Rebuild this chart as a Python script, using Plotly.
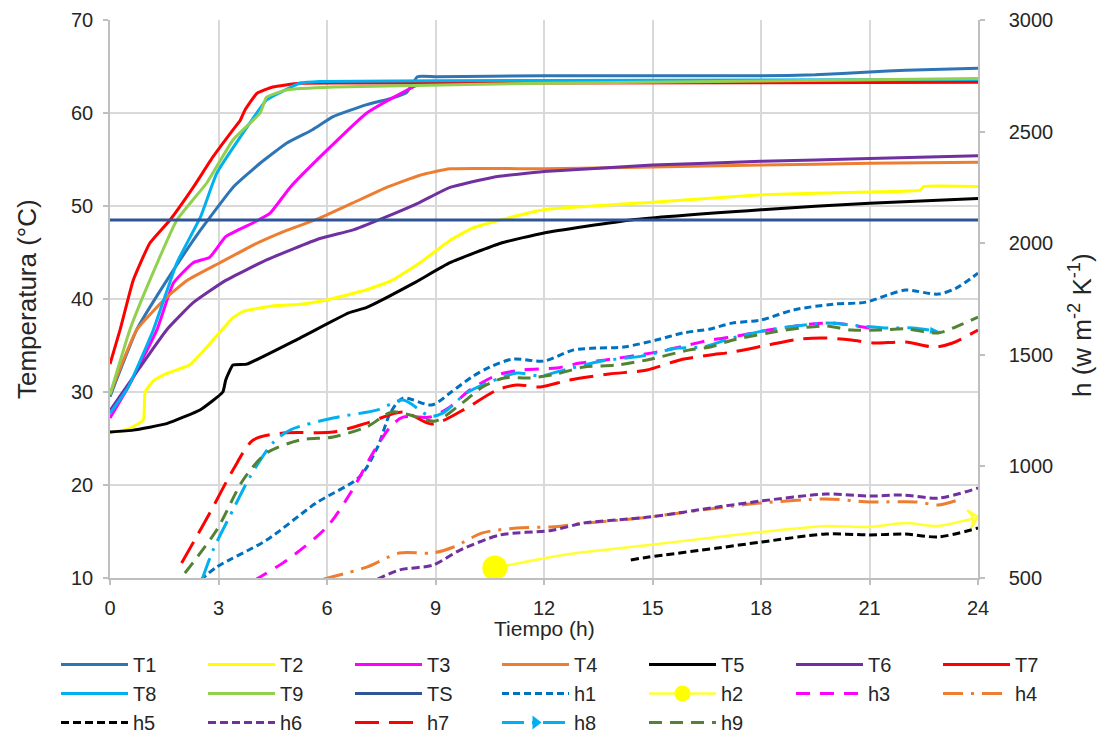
import plotly.graph_objects as go

# ---- Temperature series (°C) vs time (h) ----
t_T1 = [0, 0.74, 1.57, 2.5, 3.4, 4.15, 4.9, 5.6, 6.17, 7.1, 7.8, 8.2, 8.5, 9, 12, 15, 18, 19.5, 21, 22, 24]
v_T1 = [29.5, 36.7, 42.0, 47.4, 52.0, 54.6, 56.8, 58.2, 59.6, 60.9, 61.6, 62.2, 63.9, 63.9, 64.0, 64.0, 64.0, 64.1, 64.4, 64.6, 64.8]

t_T2 = [0, 0.5, 0.92, 0.97, 1.2, 1.57, 2.2, 2.6, 3.1, 3.4, 3.7, 4.6, 5.2, 6, 7.1, 7.8, 8.57, 9.4, 10, 10.8, 12, 15, 18, 21, 22.4, 22.5, 24]
v_T2 = [25.6, 26.0, 27.0, 30.0, 31.2, 32.0, 32.9, 34.5, 36.7, 38.0, 38.7, 39.3, 39.4, 39.9, 41.0, 42.0, 43.9, 46.3, 47.6, 48.5, 49.6, 50.4, 51.2, 51.5, 51.7, 52.1, 52.1]

t_T3 = [0, 0.5, 1.3, 1.75, 2.3, 2.76, 3.2, 3.96, 4.42, 4.98, 6.0, 7.1, 7.8, 8.5, 9, 12, 24]
v_T3 = [27.2, 30.5, 36.7, 41.7, 43.9, 44.5, 46.7, 48.2, 49.2, 52.0, 56.0, 60.0, 61.6, 63.0, 63.3, 63.3, 63.4]

t_T4 = [0, 0.74, 1.57, 2.13, 3.04, 3.96, 4.9, 5.8, 6.7, 7.65, 8.57, 9.4, 12, 15, 18, 21, 24]
v_T4 = [29.8, 36.7, 40.2, 42.0, 43.9, 45.8, 47.4, 48.7, 50.3, 52.0, 53.3, 54.0, 54.0, 54.2, 54.4, 54.6, 54.7]

t_T5 = [0, 0.64, 1.57, 2.5, 3.12, 3.2, 3.4, 3.78, 5.25, 6.6, 7.1, 8.4, 9.4, 10.8, 12, 14.4, 18, 21, 24]
v_T5 = [25.7, 25.9, 26.6, 28.1, 30.0, 31.3, 32.9, 33.0, 35.8, 38.5, 39.1, 41.7, 43.9, 46.0, 47.1, 48.5, 49.6, 50.3, 50.8]

t_T6 = [0, 0.8, 1.57, 2.3, 3.2, 4.33, 5.8, 6.7, 7.55, 8.57, 9.4, 10.6, 12, 15, 18, 21, 24]
v_T6 = [28.0, 32.5, 36.7, 39.6, 42.0, 44.2, 46.5, 47.4, 48.7, 50.4, 52.0, 53.1, 53.7, 54.4, 54.8, 55.1, 55.4]

t_T7 = [0, 0.28, 0.64, 1.1, 1.66, 2.3, 2.85, 3.5, 3.6, 3.73, 4.06, 4.5, 5.25, 9, 24]
v_T7 = [33.0, 36.7, 42.0, 46.0, 48.5, 52.0, 55.3, 58.7, 59.2, 60.3, 62.1, 62.8, 63.2, 63.2, 63.3]

t_T8 = [0, 0.5, 1.2, 1.85, 2.5, 2.95, 3.6, 4.33, 4.7, 5.25, 5.8, 12, 24]
v_T8 = [27.7, 30.5, 36.7, 43.9, 48.8, 53.5, 57.4, 61.4, 62.2, 63.2, 63.4, 63.5, 63.6]

t_T9 = [0, 0.55, 1.1, 1.85, 2.68, 3.4, 4.15, 4.33, 4.9, 6.2, 12, 24]
v_T9 = [29.7, 36.7, 42.0, 48.5, 52.5, 57.1, 60.0, 61.7, 62.5, 62.8, 63.2, 63.7]

t_TS = [0, 24]
v_TS = [48.5, 48.5]

# ---- Heat transfer coefficient series h (W m-2 K-1) vs time (h) ----
t_h1 = [2.5, 2.95, 4.33, 5.7, 6.9, 7.4, 7.75, 8.1, 8.9, 9.4, 10.0, 10.5, 11.15, 12.0, 12.8, 13.45, 14.2, 15.1, 15.85, 16.6, 17.2, 18, 18.9, 20, 20.9, 21.5, 22.0, 22.9, 23.4, 24]
v_h1 = [490, 549, 670, 836, 953, 1087, 1239, 1306, 1275, 1329, 1400, 1445, 1481, 1472, 1521, 1530, 1535, 1566, 1598, 1616, 1642, 1656, 1701, 1727, 1736, 1768, 1790, 1772, 1799, 1866]

t_h2 = [10.64, 12.2, 13.1, 14.9, 16.8, 18, 19.8, 21, 22, 22.9, 24]
v_h2 = [545, 594, 616, 648, 684, 706, 733, 729, 746, 733, 773]

t_h3 = [4.0, 4.9, 6.0, 6.7, 7.27, 7.75, 8.1, 8.85, 9.4, 9.95, 10.7, 11.4, 12.35, 13.0, 13.7, 15.1, 16, 16.6, 17.2, 18.2, 19.4, 20, 21]
v_h3 = [490, 581, 729, 894, 1060, 1177, 1221, 1221, 1266, 1342, 1409, 1432, 1441, 1463, 1477, 1512, 1544, 1566, 1580, 1611, 1638, 1642, 1620]

t_h4 = [5.9, 7.1, 8.0, 8.93, 9.5, 10.3, 11.25, 12.2, 13.1, 14.9, 16.8, 18, 19.8, 21, 22.3, 22.9, 23.6]
v_h4 = [495, 549, 612, 612, 639, 702, 724, 729, 745, 773, 814, 836, 854, 841, 841, 827, 858]

t_h5 = [14.4, 14.9, 16.8, 18, 19.8, 21, 22, 22.9, 24]
v_h5 = [581, 594, 634, 661, 697, 693, 697, 684, 724]

t_h6 = [7.4, 8.0, 8.93, 9.68, 10.8, 12.2, 13.1, 14.9, 16.8, 18, 19.8, 21, 21.9, 22.9, 24]
v_h6 = [495, 536, 558, 625, 693, 713, 746, 773, 818, 845, 876, 867, 872, 858, 903]

t_h7 = [1.98, 2.76, 3.4, 3.96, 4.8, 6.17, 7.1, 8.1, 8.9, 9.77, 10.7, 11.25, 11.9, 12.7, 13.8, 14.85, 15.76, 16.6, 17.2, 18.2, 19.1, 19.8, 20.5, 21.1, 22, 22.8, 23.3, 24]
v_h7 = [567, 791, 984, 1118, 1150, 1154, 1194, 1244, 1190, 1253, 1342, 1365, 1356, 1387, 1414, 1432, 1477, 1499, 1512, 1544, 1571, 1575, 1566, 1553, 1557, 1535, 1553, 1611]

t_h8 = [2.55, 2.85, 3.4, 3.87, 4.5, 4.98, 6.17, 7.4, 8.1, 8.85, 9.2, 9.86, 10.5, 11.25, 11.9, 12.35, 13.6, 14.7, 15.7, 16.4, 17.2, 18.2, 19.8, 20.5, 21.5, 22.2, 23.0]
v_h8 = [495, 625, 805, 953, 1105, 1163, 1217, 1253, 1297, 1225, 1239, 1329, 1378, 1418, 1405, 1423, 1472, 1494, 1530, 1535, 1575, 1611, 1642, 1633, 1620, 1620, 1602]

t_h9 = [2.07, 2.95, 3.68, 4.33, 5.25, 6.17, 7.1, 7.8, 8.5, 9.0, 9.77, 10.3, 10.9, 11.6, 12.35, 13.1, 14.0, 14.85, 16, 16.6, 17.2, 18.2, 19.1, 19.8, 20.5, 21.3, 22, 22.9, 23.5, 24]
v_h9 = [522, 715, 939, 1060, 1118, 1132, 1177, 1244, 1221, 1203, 1288, 1356, 1396, 1396, 1414, 1445, 1454, 1477, 1521, 1535, 1565, 1598, 1620, 1629, 1611, 1611, 1616, 1598, 1633, 1669]

x_ticks = [0, 3, 6, 9, 12, 15, 18, 21, 24]

FONT = "Liberation Sans, Arial, sans-serif"
TXT = "#262626"

# name, time, values, axis, colour, dash, width
series = [
    ("T1", t_T1, v_T1, "y", "#2E75B6", "solid", 3),
    ("T2", t_T2, v_T2, "y", "#FFFF00", "solid", 3),
    ("T3", t_T3, v_T3, "y", "#FF00FF", "solid", 3),
    ("T4", t_T4, v_T4, "y", "#ED7D31", "solid", 3),
    ("T5", t_T5, v_T5, "y", "#000000", "solid", 3),
    ("T6", t_T6, v_T6, "y", "#7030A0", "solid", 3),
    ("T7", t_T7, v_T7, "y", "#FF0000", "solid", 3),
    ("T8", t_T8, v_T8, "y", "#00B0F0", "solid", 3),
    ("T9", t_T9, v_T9, "y", "#92D050", "solid", 3),
    ("TS", t_TS, v_TS, "y", "#2F5597", "solid", 3),
    ("h1", t_h1, v_h1, "y2", "#0070C0", "7px,4px", 3),
    ("h2", t_h2, v_h2, "y2", "#FFFF33", "solid", 2.5),
    ("h3", t_h3, v_h3, "y2", "#FF00FF", "14px,10px", 3),
    ("h4", t_h4, v_h4, "y2", "#ED7D31", "20px,8px,3px,8px", 3),
    ("h5", t_h5, v_h5, "y2", "#000000", "8px,4px", 3),
    ("h6", t_h6, v_h6, "y2", "#7030A0", "8px,4px", 3),
    ("h7", t_h7, v_h7, "y2", "#FF0000", "24px,10px", 3),
    ("h8", t_h8, v_h8, "y2", "#00B0F0", "22px,8px,3px,8px", 3),
    ("h9", t_h9, v_h9, "y2", "#548235", "13px,8px", 3),
]

N_COLS = 7
fig = go.Figure()

for i, (name, tx, vy, ax, col, dash, w) in enumerate(series):
    leg = "legend" if i % N_COLS == 0 else f"legend{i % N_COLS + 1}"
    smooth = 0.8 if ax == "y2" else 0.4
    line = dict(color=col, width=w, dash=dash, shape="spline", smoothing=smooth)
    n = len(tx)
    if name == "h2":
        fig.add_trace(go.Scatter(
            x=tx, y=vy, yaxis=ax, mode="lines+markers", line=line, showlegend=False,
            marker=dict(color=col, symbol="arrow-wide-open", size=[0] * (n - 1) + [13],
                        opacity=[0] * (n - 1) + [1], angleref="previous",
                        line=dict(color=col, width=2.5)),
            hoverinfo="skip"))
        # large dot marking the first h2 value
        fig.add_trace(go.Scatter(
            x=tx[:1], y=vy[:1], yaxis=ax, mode="markers", showlegend=False,
            marker=dict(color="#FFFF00", size=25, symbol="circle"), hoverinfo="skip"))
        fig.add_trace(go.Scatter(
            x=[None], y=[None], yaxis=ax, name=name, legend=leg, mode="lines+markers",
            line=dict(color=col, width=w), marker=dict(color="#FFFF00", size=16, symbol="circle")))
    elif name == "h8":
        fig.add_trace(go.Scatter(
            x=tx, y=vy, yaxis=ax, mode="lines+markers", line=line, showlegend=False,
            marker=dict(color=col, symbol="arrow", size=[0] * (n - 1) + [13],
                        opacity=[0] * (n - 1) + [1], angleref="previous"),
            hoverinfo="skip"))
        fig.add_trace(go.Scatter(
            x=[None], y=[None], yaxis=ax, name=name, legend=leg, mode="lines+markers",
            line=dict(color=col, width=w, dash=dash),
            marker=dict(color=col, size=12, symbol="triangle-right")))
    else:
        fig.add_trace(go.Scatter(x=tx, y=vy, yaxis=ax, name=name, legend=leg,
                                 mode="lines", line=line))

axis_common = dict(
    showline=True, linecolor="#BFBFBF", linewidth=1.5,
    ticks="outside", ticklen=5, tickcolor="#BFBFBF", tickwidth=1.5,
    tickfont=dict(family=FONT, size=20, color=TXT),
    zeroline=False,
)

layout = dict(
    width=1102, height=736,
    margin=dict(l=110, r=124, t=20, b=158, autoexpand=False),
    paper_bgcolor="white", plot_bgcolor="white",
    font=dict(family=FONT, size=20, color=TXT),
    xaxis=dict(range=[0, 24], tickvals=x_ticks, showgrid=True, gridcolor="#D9D9D9", gridwidth=1.5,
               ticklabelstandoff=6, **axis_common),
    yaxis=dict(range=[10, 70], dtick=10, showgrid=True, gridcolor="#D9D9D9", gridwidth=1.5,
               ticklabelstandoff=6, **axis_common),
    yaxis2=dict(range=[500, 3000], dtick=500, overlaying="y", side="right", showgrid=False,
                ticklabelstandoff=20, **axis_common),
    annotations=[
        dict(text="Tiempo (h)", xref="paper", yref="paper", x=0.5, y=(578 - 628) / 558,
             xanchor="center", yanchor="middle", showarrow=False,
             font=dict(family=FONT, size=21, color=TXT)),
        dict(text="Temperatura (°C)", xref="paper", yref="paper", x=(27 - 110) / 868, y=0.5,
             xanchor="center", yanchor="middle", textangle=-90, showarrow=False,
             font=dict(family=FONT, size=26, color=TXT)),
        dict(text="h (w m<sup>-2</sup> K<sup>-1</sup>)", xref="paper", yref="paper",
             x=(1080 - 110) / 868, y=(578 - 325) / 558,
             xanchor="center", yanchor="middle", textangle=-90, showarrow=False,
             font=dict(family=FONT, size=26, color=TXT)),
    ],
)

for k in range(N_COLS):
    key = "legend" if k == 0 else f"legend{k + 1}"
    layout[key] = dict(
        x=(56 + 147 * k) / 1102, xref="container", xanchor="left",
        y=(736 - 645) / 736, yref="container", yanchor="top",
        orientation="v", itemwidth=67, traceorder="normal",
        bgcolor="rgba(0,0,0,0)", borderwidth=0,
        font=dict(family=FONT, size=20, color=TXT),
    )

fig.update_layout(**layout)
fig.write_html("out.html")
